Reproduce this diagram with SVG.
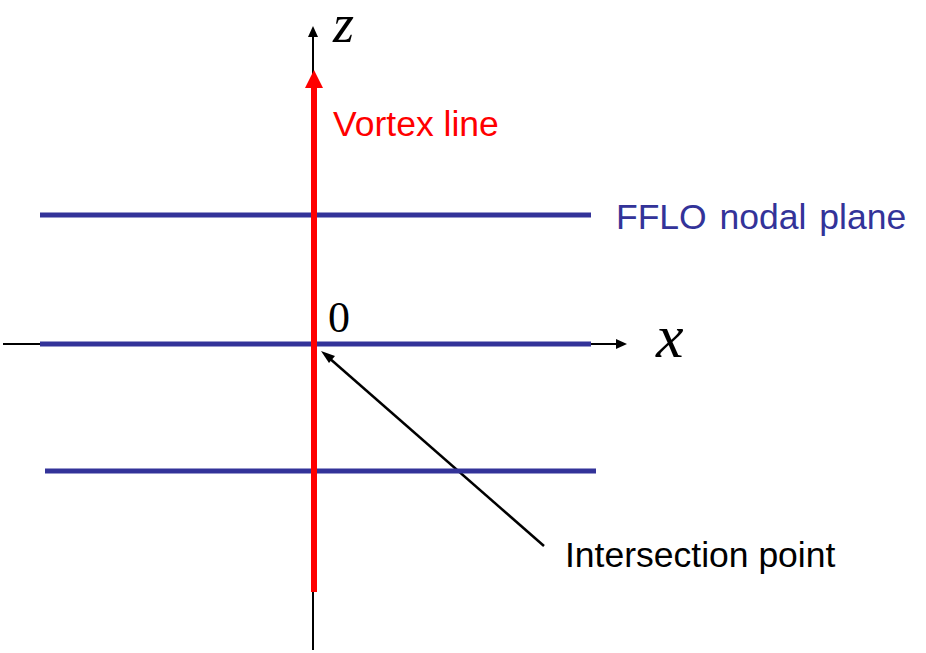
<svg xmlns="http://www.w3.org/2000/svg" width="926" height="653" viewBox="0 0 926 653">
<style>
.plane{stroke:#333399;stroke-width:5;fill:none}
.axis{stroke:#000;stroke-width:2;fill:none}
.sans{font-family:"Liberation Sans",Arial,sans-serif;font-size:35.5px}
.serif{font-family:"Liberation Serif","Times New Roman",serif}
</style>
<rect width="926" height="653" fill="#fff"/>
<g id="connectors">
<line class="axis" x1="313" y1="650" x2="313" y2="36"/>
<polygon points="313,26 308,37 318,37" fill="#000"/>
<line class="axis" x1="3" y1="344" x2="617" y2="344"/>
<polygon points="627,344 616,339 616,349" fill="#000"/>
<line x1="544" y1="546" x2="328" y2="357" stroke="#000" stroke-width="2.5"/>
<polygon points="321,351 335,356 329,363" fill="#000"/>
</g>
<g id="planes">
<line class="plane" x1="40" y1="215" x2="591" y2="215"/>
<line class="plane" x1="40" y1="344" x2="591" y2="344"/>
<line class="plane" x1="45" y1="471" x2="596" y2="471"/>
</g>
<g id="vortex">
<line x1="314" y1="592" x2="314" y2="86" stroke="#ff0000" stroke-width="6"/>
<polygon points="314,70 305,88 323,88" fill="#ff0000"/>
</g>
<g id="labels">
<text class="serif" x="333" y="42" font-size="54" font-style="italic">z</text>
<text class="serif" x="328" y="332" font-size="44">0</text>
<text class="serif" x="656" y="357" font-size="62" font-style="italic">x</text>
<text class="sans" x="333" y="136" fill="#ff0000">Vortex line</text>
<text class="sans" x="616" y="229" fill="#333399" word-spacing="3">FFLO nodal plane</text>
<text class="sans" x="565" y="567" fill="#000">Intersection point</text>
</g>
</svg>
